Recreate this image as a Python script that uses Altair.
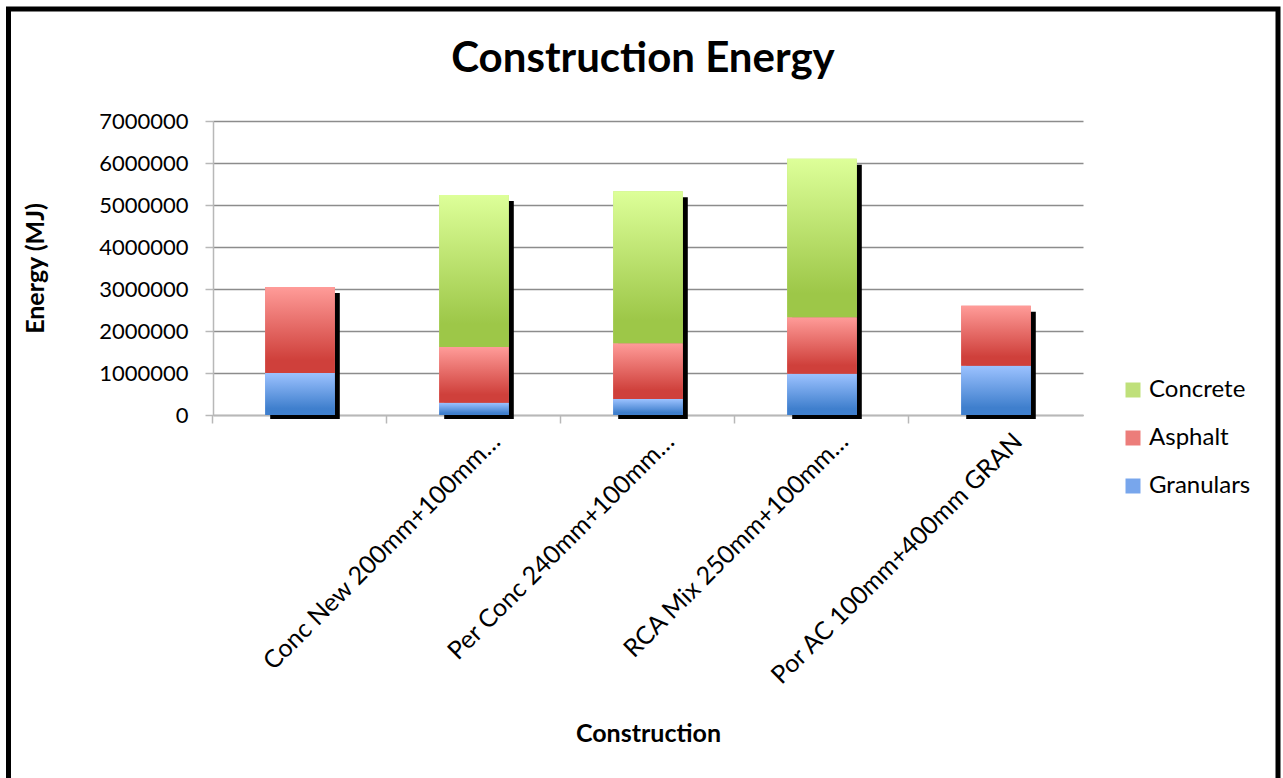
import altair as alt
import pandas as pd

# ---- data ----
categories = [" ", "Conc New 200mm+100mm…", "Per Conc 240mm+100mm…",
              "RCA Mix 250mm+100mm…", "Por AC 100mm+400mm GRAN"]
series = ["Granulars", "Asphalt", "Concrete"]
granulars = [1000000, 290000, 380000, 980000, 1170000]
asphalt = [2050000, 1330000, 1330000, 1350000, 1430000]
concrete = [0, 3620000, 3620000, 3770000, 0]
y_ticks = [0, 1000000, 2000000, 3000000, 4000000, 5000000, 6000000, 7000000]

legend_order = ["Concrete", "Asphalt", "Granulars"]
legend_colors = ["#bfe07a", "#ec7d7a", "#78a6ec"]

values = {"Granulars": granulars, "Asphalt": asphalt, "Concrete": concrete}
rows = []
for i, s in enumerate(series):
    for c, v in zip(categories, values[s]):
        rows.append({"cat": c, "series": s, "order": i, "value": v})
df = pd.DataFrame(rows)

FONT = "Lato"

gradients = {
    "Granulars": ("#9cc2ff", "#3f7fcd"),
    "Asphalt": ("#ff9c99", "#cf403b"),
    "Concrete": ("#ddff99", "#9dc748"),
}

def grad(top, bottom):
    return alt.Gradient(
        gradient="linear", x1=0, x2=0, y1=0, y2=1,
        stops=[alt.GradientStop(color=top, offset=0),
               alt.GradientStop(color=bottom, offset=0.85),
               alt.GradientStop(color=bottom, offset=1)],
    )

x_axis = alt.Axis(
    labelAngle=-45, labelAlign="right", labelBaseline="middle",
    labelOffset=22, bandPosition=-0.7615, tickSize=8, labelFontSize=25,
    labelColor="black", labelPadding=14, labelLimit=0, grid=False,
    domainColor="#b8b8b8", tickColor="#b8b8b8", domainWidth=1.5, tickWidth=1.5,
    titleFontSize=25, titleFontWeight="bold", titleColor="black",
    titleX=435, titleY=318, titleBaseline="middle", titleAlign="center",
)
y_axis = alt.Axis(
    values=y_ticks, format="d", labelFontSize=22, labelColor="black",
    labelPadding=17, tickSize=8, tickColor="#b8b8b8", domainColor="#b8b8b8",
    domainWidth=1.5, tickWidth=1.5, gridColor="#8c8c8c", gridWidth=1.5,
    titleFontSize=25, titleFontWeight="bold", titleColor="black",
    titleX=-178, titleY=147, titleBaseline="middle", titleAlign="center",
)

x_enc = alt.X("cat:N", sort=categories, title="Construction",
              scale=alt.Scale(paddingInner=0.6, paddingOuter=0.3), axis=x_axis)
y_scale = alt.Scale(domain=[0, 7000000])

base = alt.Chart(df).transform_stack(
    stack="value", groupby=["cat"], as_=["v0", "v1"],
    sort=[alt.SortField("order", order="ascending")],
)

border = alt.Chart(pd.DataFrame({"k": [0]})).mark_rect(
    filled=False, stroke="black", strokeWidth=5
).encode(x=alt.value(-204.5), x2=alt.value(1065), y=alt.value(-112), y2=alt.value(700))

shadow = alt.Chart(df).transform_aggregate(
    total="sum(value)", groupby=["cat"]
).mark_bar(color="black", xOffset=5, yOffset=6, y2Offset=4).encode(
    x=x_enc,
    y=alt.Y("total:Q", scale=y_scale, axis=y_axis, title="Energy (MJ)"),
    y2=alt.datum(0),
)

solid = base.mark_bar().encode(
    x=x_enc,
    y=alt.Y("v1:Q", scale=y_scale, axis=y_axis, title="Energy (MJ)"),
    y2="v0:Q",
    color=alt.Color(
        "series:N",
        scale=alt.Scale(domain=legend_order, range=legend_colors),
        legend=alt.Legend(
            title=None, orient="none", legendX=908, legendY=257,
            symbolType="square", symbolSize=225, symbolStrokeWidth=0,
            labelFontSize=24, labelColor="black", labelOffset=4,
            rowPadding=24, direction="vertical",
        ),
    ),
)

layers = [border, shadow, solid]
for s in series:
    top, bottom = gradients[s]
    layers.append(
        base.transform_filter(alt.datum.series == s).mark_bar(fill=grad(top, bottom)).encode(
            x=x_enc,
            y=alt.Y("v1:Q", scale=y_scale, axis=y_axis, title="Energy (MJ)"),
            y2="v0:Q",
        )
    )

chart = alt.layer(*layers).properties(
    width=870, height=294,
    padding={"left": 213, "top": 121, "right": 200, "bottom": 363},
    autosize=alt.AutoSizeParams(type="none"),
    background="white",
    title=alt.Title("Construction Energy", fontSize=42, fontWeight="bold",
                    color="black", anchor="middle", offset=-74, dx=-5),
).configure(font=FONT).configure_view(stroke=None)

chart.save("out.html", embed_options={"renderer": "svg", "actions": False})
